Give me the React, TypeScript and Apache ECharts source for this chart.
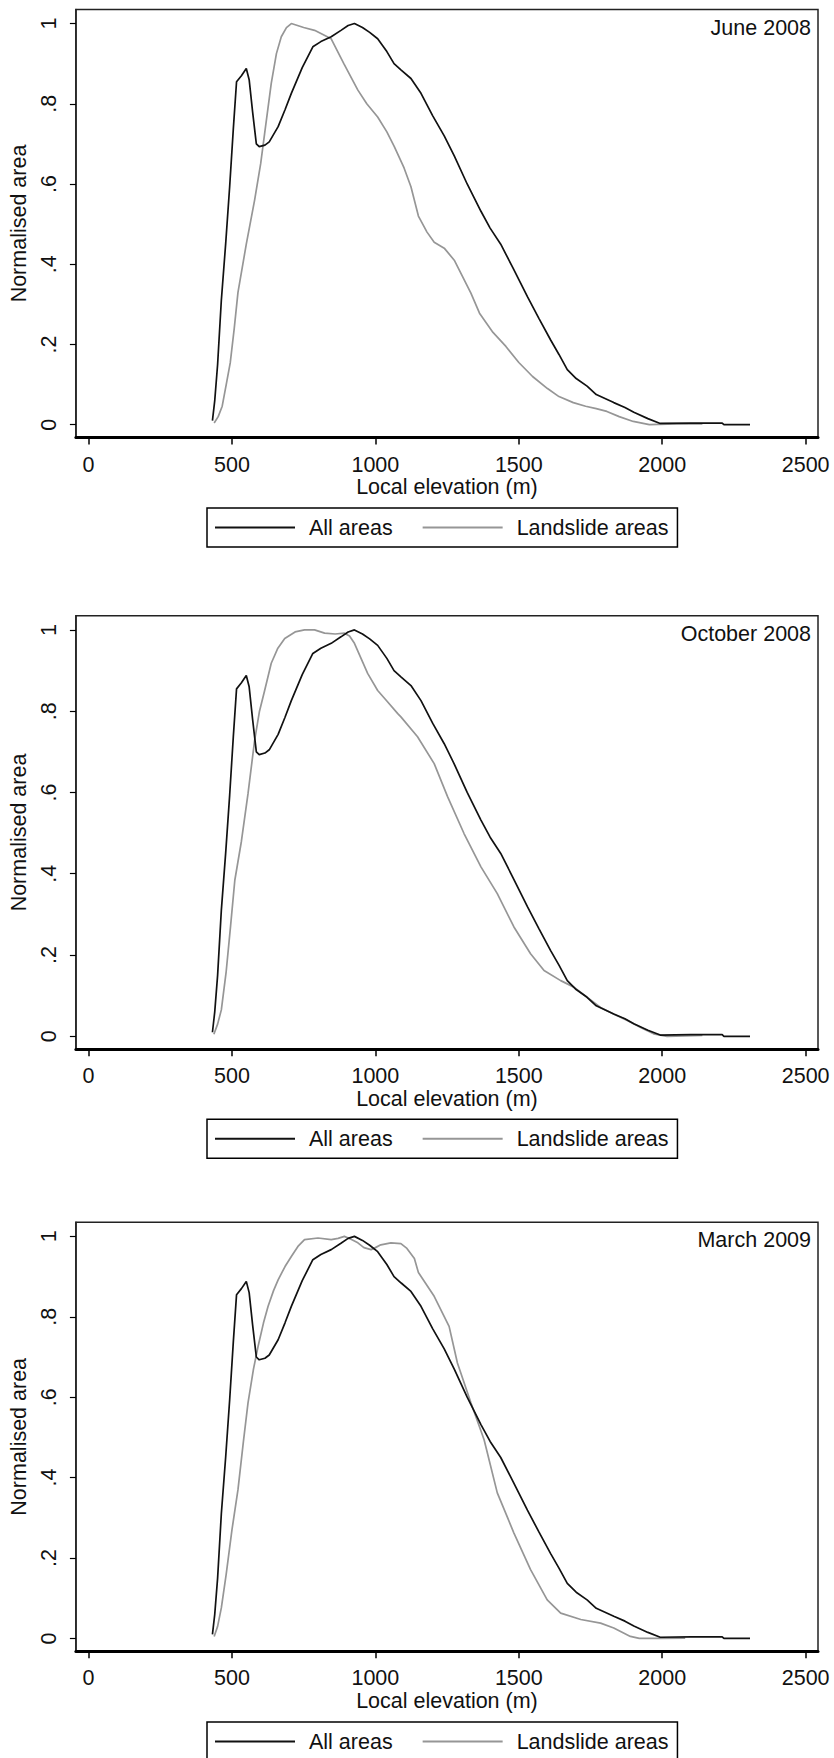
import React, { useEffect, useRef } from 'react';
import * as echarts from 'echarts';

const xTicks = [0, 500, 1000, 1500, 2000, 2500];
const yTicks = [0, 0.2, 0.4, 0.6, 0.8, 1];
const seriesNames = ['All areas', 'Landslide areas'];
const panelTitles = ['June 2008', 'October 2008', 'March 2009'];
const xTitle = 'Local elevation (m)';
const yTitle = 'Normalised area';

const allAreas: [number, number][] = [
  [432, 0.01], [440, 0.06], [450, 0.15], [463, 0.31], [478, 0.45], [492, 0.593], [505, 0.74],
  [516, 0.855], [533, 0.87], [550, 0.888], [560, 0.86], [572, 0.78], [585, 0.7], [595, 0.693],
  [615, 0.697], [630, 0.705], [661, 0.743], [685, 0.785], [707, 0.826], [745, 0.89], [782, 0.942],
  [810, 0.955], [846, 0.967], [880, 0.983], [905, 0.995], [927, 1.0], [955, 0.99], [980, 0.978],
  [1008, 0.962], [1040, 0.93], [1065, 0.9], [1090, 0.884], [1124, 0.863], [1159, 0.826],
  [1200, 0.77], [1240, 0.72], [1275, 0.67], [1320, 0.6], [1368, 0.532], [1400, 0.49],
  [1437, 0.45], [1480, 0.39], [1530, 0.319], [1570, 0.265], [1611, 0.211], [1640, 0.175],
  [1669, 0.137], [1700, 0.115], [1738, 0.096], [1770, 0.075], [1831, 0.055], [1870, 0.043],
  [1901, 0.031], [1950, 0.015], [1993, 0.003], [2100, 0.004], [2209, 0.004], [2215, 0.0],
  [2306, 0.0],
];

const landslideJun2008: [number, number][] = [
  [438, 0.004], [452, 0.02], [466, 0.046], [480, 0.1], [494, 0.154], [508, 0.24], [521, 0.33],
  [550, 0.45], [579, 0.56], [600, 0.65], [614, 0.726], [637, 0.851], [655, 0.925], [672, 0.967],
  [690, 0.99], [707, 1.0], [750, 0.99], [788, 0.983], [846, 0.962], [890, 0.9], [939, 0.834],
  [970, 0.8], [1008, 0.767], [1040, 0.73], [1066, 0.693], [1100, 0.64], [1124, 0.593],
  [1150, 0.52], [1180, 0.48], [1205, 0.455], [1240, 0.44], [1275, 0.41], [1333, 0.328],
  [1363, 0.278], [1410, 0.23], [1455, 0.195], [1500, 0.155], [1548, 0.12], [1600, 0.09],
  [1640, 0.07], [1690, 0.055], [1733, 0.046], [1770, 0.04], [1807, 0.033], [1850, 0.02],
  [1899, 0.008], [1955, 0.0], [2050, 0.002], [2140, 0.002],
];

const landslideOct2008: [number, number][] = [
  [437, 0.005], [450, 0.03], [463, 0.065], [480, 0.16], [495, 0.27], [510, 0.384], [533, 0.48],
  [556, 0.597], [579, 0.728], [596, 0.8], [614, 0.851], [637, 0.918], [660, 0.955], [684, 0.979],
  [720, 0.995], [753, 1.0], [788, 1.0], [823, 0.992], [860, 0.99], [892, 0.992], [910, 0.985],
  [927, 0.967], [950, 0.93], [973, 0.893], [1008, 0.851], [1040, 0.825], [1078, 0.794],
  [1089, 0.786], [1147, 0.737], [1205, 0.671], [1252, 0.589], [1309, 0.499], [1368, 0.417],
  [1425, 0.351], [1483, 0.269], [1541, 0.203], [1588, 0.162], [1646, 0.137], [1692, 0.121],
  [1740, 0.095], [1785, 0.071], [1830, 0.055], [1878, 0.039], [1930, 0.02], [1970, 0.006],
  [2017, 0.0], [2140, 0.002],
];

const landslideMar2009: [number, number][] = [
  [438, 0.005], [450, 0.03], [463, 0.076], [480, 0.16], [500, 0.27], [521, 0.37], [540, 0.49],
  [556, 0.586], [575, 0.67], [591, 0.726], [610, 0.785], [626, 0.826], [645, 0.865], [661, 0.892],
  [685, 0.925], [707, 0.95], [730, 0.975], [753, 0.992], [800, 0.996], [846, 0.992], [870, 0.995],
  [892, 1.0], [915, 0.993], [939, 0.984], [960, 0.972], [985, 0.967], [1000, 0.972], [1019, 0.979],
  [1054, 0.984], [1089, 0.982], [1110, 0.97], [1136, 0.945], [1150, 0.91], [1205, 0.851],
  [1257, 0.776], [1286, 0.685], [1333, 0.586], [1379, 0.494], [1425, 0.362], [1483, 0.262],
  [1541, 0.171], [1599, 0.096], [1646, 0.063], [1716, 0.047], [1785, 0.038], [1831, 0.026],
  [1889, 0.005], [1920, 0.0], [1993, 0.0], [2080, 0.001],
];

const landslideByPanel = [landslideJun2008, landslideOct2008, landslideMar2009];

const FONT = '"Liberation Sans", Arial, Helvetica, sans-serif';
const FS = 21.5;
const TEXT = '#111';
const BLACK = '#111';
const GREY = '#969696';
const PANELS = [
  { top: 9.5, height: 428, legendTop: 508 },
  { top: 615.7, height: 433.6, legendTop: 1119.3 },
  { top: 1222.3, height: 429, legendTop: 1722 },
];

function yFmt(v: any): string {
  const n = Math.round(Number(v) * 10);
  if (n === 0) return '0';
  if (n === 10) return '1';
  return '.' + n;
}

function xFmt(v: any): string {
  return String(Math.round(Number(v)));
}

export default function App() {
  const ref = useRef<HTMLDivElement>(null);
  useEffect(() => {
    if (!ref.current) return;
    const chart = echarts.init(ref.current, undefined, { renderer: 'svg' });
    const grid: any[] = [];
    const xAxis: any[] = [];
    const yAxis: any[] = [];
    const series: any[] = [];
    const title: any[] = [];
    const legend: any[] = [];
    PANELS.forEach((p, i) => {
      grid.push({
        left: 74, top: p.top, width: 744, height: p.height,
        show: true, borderColor: '#222', borderWidth: 1.5, backgroundColor: '#fff',
      });
      xAxis.push({
        type: 'value', gridIndex: i, min: -44, max: 2543,
        axisLine: { show: true, onZero: false, lineStyle: { color: '#000', width: 3 } },
        axisTick: { show: true, customValues: xTicks, length: 7, lineStyle: { color: '#000', width: 1.5 } },
        axisLabel: { customValues: xTicks, fontSize: FS, fontFamily: FONT, color: TEXT, margin: 16, formatter: xFmt },
        splitLine: { show: false },
        name: xTitle, nameLocation: 'middle', nameGap: 35,
        nameTextStyle: { fontSize: FS, fontFamily: FONT, color: TEXT },
      });
      yAxis.push({
        type: 'value', gridIndex: i, min: -0.032, max: 1.035,
        axisLine: { show: true, onZero: false, lineStyle: { color: '#222', width: 1.5 } },
        axisTick: { show: true, customValues: yTicks, length: 6, lineStyle: { color: '#000', width: 1.2 } },
        axisLabel: { customValues: yTicks, rotate: 90, fontSize: FS, fontFamily: FONT, color: TEXT, margin: 16, formatter: yFmt },
        splitLine: { show: false },
        name: yTitle, nameLocation: 'middle', nameGap: 34,
        nameTextStyle: { fontSize: FS, fontFamily: FONT, color: TEXT },
      });
      series.push({
        name: seriesNames[0], type: 'line', xAxisIndex: i, yAxisIndex: i,
        data: allAreas, symbol: 'none', z: 3,
        lineStyle: { color: BLACK, width: 1.7 }, itemStyle: { color: BLACK },
      });
      series.push({
        name: seriesNames[1], type: 'line', xAxisIndex: i, yAxisIndex: i,
        data: landslideByPanel[i], symbol: 'none', z: 2,
        lineStyle: { color: GREY, width: 1.7 }, itemStyle: { color: GREY },
      });
      title.push({
        text: panelTitles[i], right: 23, top: p.top + 7, padding: 0,
        textStyle: { fontSize: FS, fontWeight: 'normal', fontFamily: FONT, color: TEXT },
      });
      legend.push({
        data: seriesNames.map((n) => ({ name: n, icon: 'rect' })),
        left: 207, top: p.legendTop, orient: 'horizontal',
        borderColor: '#000', borderWidth: 1.5, backgroundColor: '#fff',
        padding: [8, 9, 8, 8], itemWidth: 80, itemHeight: 2, itemGap: 30,
        selectedMode: false,
        textStyle: { fontSize: FS, fontFamily: FONT, color: TEXT, padding: [0, 0, 0, 9], lineHeight: 23 },
      });
    });
    chart.setOption({
      animation: false,
      backgroundColor: '#fff',
      grid, xAxis, yAxis, series, title, legend,
    });
    return () => chart.dispose();
  }, []);
  return (
    <div
      ref={ref}
      style={{ position: 'absolute', left: 0, top: 0, width: 834, height: 1758, background: '#fff' }}
    />
  );
}
